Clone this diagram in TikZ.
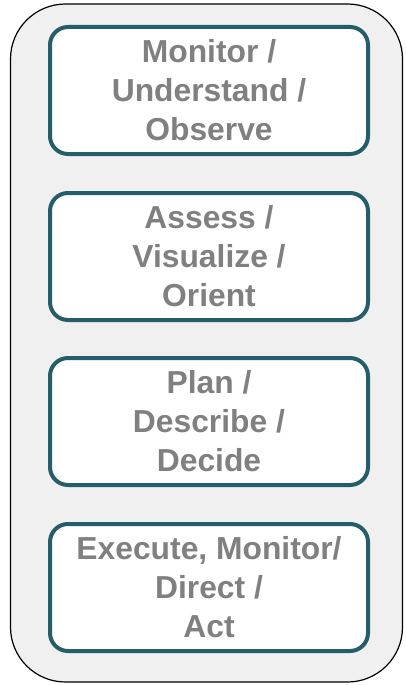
\documentclass[tikz,border=0pt]{standalone}
\usepackage{fontspec}
\setmainfont{Liberation Sans}
\definecolor{tealborder}{RGB}{38,93,107}
\definecolor{outerfill}{RGB}{240,240,240}
\definecolor{textgray}{RGB}{128,128,128}
\begin{document}
\begin{tikzpicture}[x=1pt,y=-1pt,
  outerbox/.style={draw=black,line width=1.2pt,fill=outerfill,rounded corners=55pt,minimum width=392pt,minimum height=678pt,inner sep=0pt},
  stagebox/.style={draw=tealborder,line width=4pt,fill=white,rounded corners=18pt,minimum width=318pt,minimum height=127pt,inner sep=0pt,align=center,text=textgray,font=\fontsize{31.8}{39}\selectfont\bfseries}]
\useasboundingbox (0,0) rectangle (405,685);
\node[outerbox] (outer) at (206.5,343) {};
\node[stagebox] (s1) at (209,90.5) {Monitor /\\Understand /\\Observe};
\node[stagebox] (s2) at (209,256.5) {Assess /\\Visualize /\\Orient};
\node[stagebox] (s3) at (209,421.5) {Plan /\\Describe /\\Decide};
\node[stagebox] (s4) at (209,587.5) {Execute, Monitor/\\Direct /\\Act};
\end{tikzpicture}
\end{document}
